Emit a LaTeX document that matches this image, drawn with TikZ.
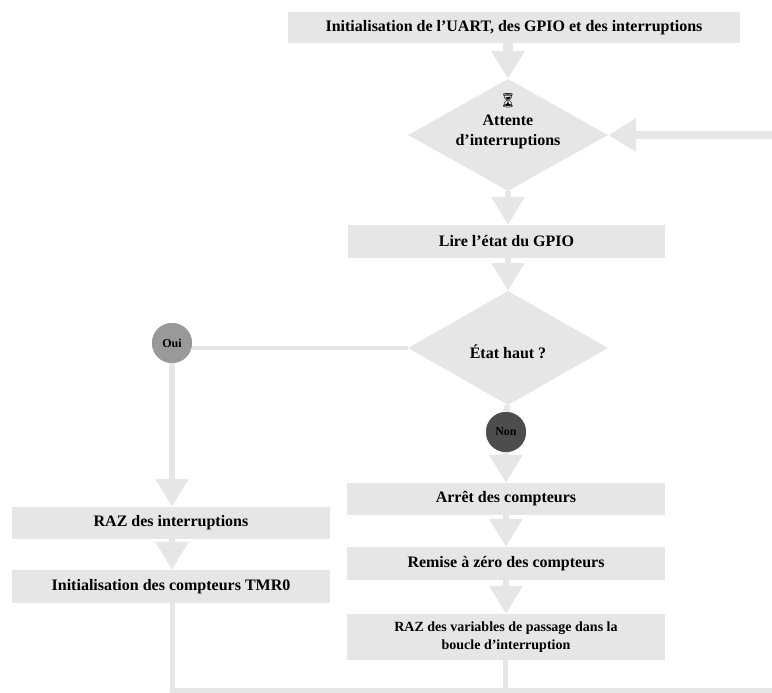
\documentclass[tikz,border=0pt]{standalone}
\usepackage{fontspec}
\setmainfont{Liberation Serif}
\newfontfamily\emojifont{Noto Emoji}
\usetikzlibrary{shapes.geometric,arrows.meta}
\definecolor{flow}{HTML}{E6E6E6}
\definecolor{yescol}{HTML}{999999}
\definecolor{nocol}{HTML}{4D4D4D}
\begin{document}
\begin{tikzpicture}[x=1pt,y=-1pt,
  box/.style={fill=flow, inner sep=0pt, align=center, font=\bfseries\fontsize{16}{18}\selectfont},
  dec/.style={diamond, fill=flow, inner sep=0pt, minimum width=200pt, minimum height=112pt},
  lbl/.style={align=center, inner sep=0pt, font=\bfseries\fontsize{16}{20}\selectfont},
  answer/.style={circle, inner sep=0pt, minimum size=40pt, font=\bfseries\fontsize{12}{14}\selectfont},
  link/.style={draw=flow, line width=6pt},
  arr/.style={link, -{Triangle[width=32pt,length=28pt]}}]
\useasboundingbox (0,0) rectangle (772,693);

% nodes
\node[box, minimum width=452pt, minimum height=31pt] (init) at (514,27.5)
  {Initialisation de l'UART, des GPIO et des interruptions};
\node[dec] (wait) at (508,135) {};
\node[lbl] (waittxt) at (508,121) {{\emojifont\fontsize{14}{16}\selectfont ⏳}\\Attente\\d'interruptions};
\node[box, minimum width=317pt, minimum height=33pt] (read) at (506.5,241.5) {Lire l'état du GPIO};
\node[dec, minimum height=114pt] (test) at (508,348) {};
\node[lbl] (testtxt) at (508,352) {État haut ?};
\node[answer, fill=yescol] (yes) at (172,343) {Oui};
\node[answer, fill=nocol] (no) at (506,432) {Non};
\node[box, minimum width=318pt, minimum height=32pt] (stop) at (506,499) {Arrêt des compteurs};
\node[box, minimum width=318pt, minimum height=33pt] (reset) at (506,563.5) {Remise à zéro des compteurs};
\node[box, minimum width=318pt, minimum height=46pt, font=\bfseries\fontsize{14}{18}\selectfont] (vars) at (506,637)
  {RAZ des variables de passage dans la\\boucle d'interruption};
\node[box, minimum width=318pt, minimum height=32pt] (razint) at (171,523) {RAZ des interruptions};
\node[box, minimum width=318pt, minimum height=33pt] (cnt) at (171,586.5) {Initialisation des compteurs TMR0};

\coordinate (initbot) at (wait.north |- init.south);
\coordinate (inright) at (772,135);
\coordinate (yesdown) at (yes.south);
\coordinate (razintop) at (yes.south |- razint.north);
\coordinate (cntbot) at (yes.south |- cnt.south);
\coordinate (leftcorner) at (172,690);
\coordinate (rightend) at (772,690);
\coordinate (varsbot) at (505,658);
\coordinate (varsjoin) at (505,690);

% connectors
\draw[arr, line width=10pt] (initbot) -- (wait.north);
\draw[arr, line width=7pt] (inright) -- (wait.east);
\draw[arr] (wait.south) -- (read.north -| wait.south);
\draw[arr] (read.south -| test.north) -- (test.north);
\draw[link, line width=4pt] (test.west) -- (yes.east |- test.west);
\draw[link, line width=6pt] (test.south) -- (no.north);
\draw[arr] (yesdown) -- (razintop);
\draw[arr] (no.south) -- (stop.north -| no.south);
\draw[arr] (stop.south -| no.south) -- (reset.north -| no.south);
\draw[arr] (reset.south -| no.south) -- (vars.north -| no.south);
\draw[arr] (razint.south -| yes.south) -- (cnt.north -| yes.south);
\draw[link, line width=5pt] (cntbot) -- (leftcorner) -- (rightend);
\draw[link, line width=5pt] (varsbot) -- (varsjoin);

% redraw circles over links
\node[answer, fill=yescol] at (yes) {Oui};
\node[answer, fill=nocol] at (no) {Non};
\end{tikzpicture}
\end{document}
